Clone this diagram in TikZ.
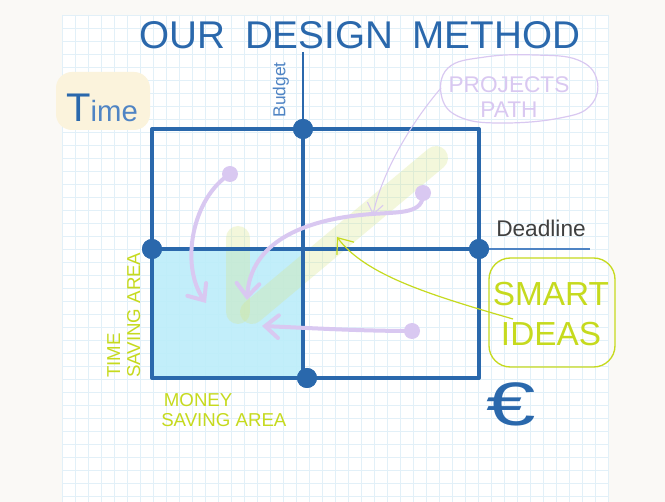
\documentclass[tikz,border=0pt]{standalone}
\usepackage{fontspec}
\setmainfont{Liberation Sans}
\usetikzlibrary{arrows.meta}
\definecolor{paper}{HTML}{FAF9F6}
\definecolor{gridc}{HTML}{E2F0F8}
\definecolor{gblue}{HTML}{2A68AC}
\definecolor{lblue}{HTML}{4F84C4}
\definecolor{lav}{HTML}{D9C8F1}
\definecolor{lime}{HTML}{C6DA1E}
\definecolor{cyanf}{HTML}{BCEDFA}
\definecolor{cream}{HTML}{FBF3DC}
\definecolor{band}{HTML}{D8E68A}
\tikzset{
  frame/.style={draw=gblue, line width=3pt, line cap=round, line join=round},
  bdot/.style={circle, fill=gblue, inner sep=0pt, minimum size=15pt},
  ldot/.style={circle, fill=lav, inner sep=0pt, minimum size=12pt},
  lavarrow/.style={draw=lav, line width=3pt, line cap=round,
    -{Straight Barb[length=10pt,width=17pt,line cap=round]}},
  limetext/.style={text=lime, font=\fontsize{14}{15}\selectfont, align=left, inner sep=0pt},
}
\begin{document}
\begin{tikzpicture}[x=0.75pt,y=-0.75pt]
\useasboundingbox (0,0) rectangle (665,502);
\fill[paper] (0,0) rectangle (665,502);
\fill[white] (62,15) rectangle (609,502);
\foreach \gx in {62,75,...,609} \draw[gridc, line width=0.6pt] (\gx,15) -- (\gx,502);
\foreach \gy in {15,28,...,502} \draw[gridc, line width=0.6pt] (62,\gy) -- (609,\gy);

% title
\node[text=gblue, font=\fontsize{29}{30}\selectfont, inner sep=0pt] (title) at (360,35) {OUR\hspace{0.5em}DESIGN\hspace{0.5em}METHOD};

% Time label
\fill[cream, rounded corners=12pt] (56,72) rectangle (150,130);
\node[inner sep=0pt, anchor=base west] (time) at (66,122) {\textcolor{gblue}{\fontsize{30}{30}\selectfont T}\textcolor{lblue}{\fontsize{22}{22}\selectfont ime}};

% cyan area
\fill[cyanf, opacity=0.9] (154,251) rectangle (302,376);
% lime band
\draw[band, opacity=0.3, line width=18pt, line cap=round] (238,238) -- (238,312);
\draw[band, opacity=0.3, line width=18pt, line cap=round] (252,312) -- (436,158);

% corners
\coordinate (tl) at (152,129);
\coordinate (tr) at (479,129);
\coordinate (bl) at (152,378);
\coordinate (br) at (479,378);
\coordinate (budtop) at (303,52);
\coordinate (dlend) at (590,249);
\coordinate (vbot) at (303,378);

% dots
\node[bdot] (dtop) at (303,129) {};
\node[bdot] (dleft) at (152,249) {};
\node[bdot] (dright) at (479,249) {};
\node[bdot] (dbot) at (307,378) {};

% budget line
\draw[gblue, line width=1.6pt] (budtop) -- (dtop.center);
% deadline line
\draw[lblue, line width=1pt] (dright.center) -- (dlend);

% frame
\draw[frame] (tl) -- (tr) -- (br) -- (bl) -- cycle;
\draw[frame] (dleft.center) -- (dright.center);
\draw[frame] (dtop.center) -- (vbot);
\node[bdot] at (dtop) {};
\node[bdot] at (dleft) {};
\node[bdot] at (dright) {};
\node[bdot] at (dbot) {};

% labels
\node[rotate=90, text=lblue, font=\fontsize{13}{13}\selectfont, inner sep=0pt] (budget) at (281,90) {Budget};
\node[text=black!75, font=\fontsize{17}{17}\selectfont, inner sep=0pt] (deadline) at (541,228) {Deadline};

% projects path cloud
\draw[lav, line width=0.9pt] plot[smooth cycle, tension=0.7] coordinates {(448,68) (485,57) (535,55) (578,60) (597,80) (590,106) (560,118) (505,123) (462,118) (442,98)};
\node[text=lav, font=\fontsize{17}{19}\selectfont, align=center, inner sep=0pt] (pp) at (509,97) {PROJECTS\\PATH};
\coordinate (ppstart) at (441,88);
\coordinate (ppend) at (373,215);
\draw[lav, line width=0.8pt, -{Straight Barb[length=8pt,width=12pt]}] (ppstart) .. controls (405,130) and (380,180) .. (ppend);

% smart ideas
\draw[lime, line width=1pt, rounded corners=16pt] (489,258) rectangle (615,367);
\node[text=lime, font=\fontsize{25}{30}\selectfont, align=center, inner sep=0pt] (smart) at (551,314) {SMART\\IDEAS};
\coordinate (sistart) at (513,319);
\coordinate (siend) at (337,237);
\draw[lime, line width=0.9pt, -{Straight Barb[length=10pt,width=16pt]}] (sistart) .. controls (430,295) and (365,275) .. (siend);

% lavender arrows
\node[ldot] (p1) at (230,174) {};
\coordinate (e1) at (206,303);
\draw[lavarrow] (p1.center) .. controls (192,198) and (180,265) .. (e1);

\node[ldot] (p2) at (423,193) {};
\coordinate (e2) at (247,300);
\draw[lavarrow] (p2.center) .. controls (424,214) and (400,212) .. (372,214) .. controls (290,220) and (250,250) .. (e2);

\node[ldot] (p3) at (412,331) {};
\coordinate (e3) at (262,326);
\draw[lavarrow] (p3.center) .. controls (360,331) and (310,328) .. (e3);

% area labels
\node[limetext, rotate=90, anchor=north west] (tsa) at (107,378) {TIME\\SAVING AREA};
\node[limetext, anchor=north west] (msa) at (161,393) {\hspace{2pt}MONEY\\SAVING AREA};

% euro
\node[text=gblue, font=\fontsize{46}{46}\selectfont, xscale=1.45, inner sep=0pt] (euro) at (511,404) {€};
\end{tikzpicture}
\end{document}
